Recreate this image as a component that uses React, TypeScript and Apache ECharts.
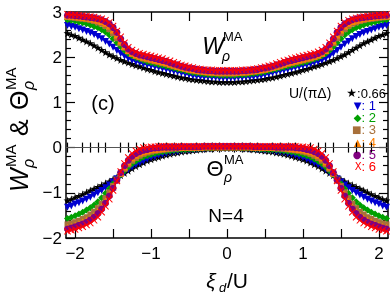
import React, { useEffect, useRef } from 'react';
import * as echarts from 'echarts';

// sample positions xi_d/U (right half; curves are mirrored to the left)
const XI_HALF = [0, 0.05, 0.1, 0.15, 0.2, 0.25, 0.3, 0.35, 0.4, 0.45, 0.5, 0.55, 0.6, 0.65, 0.7, 0.75, 0.8, 0.85, 0.9, 0.95, 1.0, 1.05, 1.1, 1.15, 1.2, 1.25, 1.3, 1.35, 1.4, 1.45, 1.5, 1.55, 1.6, 1.65, 1.7, 1.75, 1.8, 1.85, 1.9, 1.95, 2.0, 2.05, 2.1, 2.15];

const U_LABELS = ['0.66', '1', '2', '3', '4', '5', '6'];

// W_rho^MA
const W_066 = [1.45, 1.45, 1.45, 1.46, 1.46, 1.47, 1.48, 1.49, 1.50, 1.51, 1.52, 1.54, 1.55, 1.57, 1.59, 1.61, 1.63, 1.65, 1.67, 1.69, 1.72, 1.74, 1.77, 1.80, 1.82, 1.85, 1.88, 1.91, 1.94, 1.98, 2.02, 2.06, 2.11, 2.16, 2.21, 2.26, 2.31, 2.35, 2.39, 2.43, 2.47, 2.50, 2.53, 2.56];
const W_1 = [1.54, 1.54, 1.54, 1.55, 1.55, 1.56, 1.56, 1.57, 1.58, 1.59, 1.61, 1.63, 1.65, 1.67, 1.69, 1.71, 1.73, 1.75, 1.77, 1.79, 1.81, 1.83, 1.85, 1.88, 1.90, 1.93, 1.97, 2.02, 2.08, 2.15, 2.22, 2.29, 2.35, 2.41, 2.46, 2.50, 2.54, 2.57, 2.60, 2.63, 2.66, 2.68, 2.70, 2.72];
const W_2 = [1.60, 1.60, 1.60, 1.61, 1.61, 1.62, 1.63, 1.64, 1.65, 1.66, 1.68, 1.70, 1.72, 1.74, 1.76, 1.78, 1.80, 1.82, 1.84, 1.86, 1.88, 1.90, 1.93, 1.96, 1.99, 2.03, 2.08, 2.15, 2.23, 2.32, 2.41, 2.49, 2.56, 2.61, 2.65, 2.68, 2.71, 2.74, 2.76, 2.78, 2.80, 2.82, 2.83, 2.84];
const W_3 = [1.64, 1.64, 1.64, 1.65, 1.65, 1.66, 1.67, 1.68, 1.69, 1.70, 1.72, 1.74, 1.76, 1.78, 1.80, 1.83, 1.85, 1.87, 1.89, 1.91, 1.93, 1.95, 1.97, 2.00, 2.03, 2.07, 2.13, 2.21, 2.31, 2.42, 2.53, 2.62, 2.69, 2.74, 2.77, 2.80, 2.82, 2.84, 2.85, 2.86, 2.87, 2.88, 2.89, 2.89];
const W_4 = [1.67, 1.67, 1.67, 1.67, 1.68, 1.68, 1.69, 1.70, 1.71, 1.73, 1.74, 1.76, 1.78, 1.80, 1.83, 1.85, 1.88, 1.90, 1.92, 1.94, 1.96, 1.98, 2.00, 2.02, 2.05, 2.09, 2.15, 2.24, 2.36, 2.49, 2.60, 2.69, 2.75, 2.79, 2.82, 2.84, 2.86, 2.87, 2.88, 2.89, 2.90, 2.91, 2.91, 2.92];
const W_5 = [1.69, 1.69, 1.69, 1.69, 1.70, 1.70, 1.71, 1.72, 1.73, 1.75, 1.76, 1.78, 1.80, 1.83, 1.85, 1.88, 1.91, 1.93, 1.95, 1.97, 1.99, 2.01, 2.03, 2.05, 2.08, 2.12, 2.18, 2.28, 2.41, 2.55, 2.66, 2.74, 2.79, 2.83, 2.85, 2.87, 2.88, 2.89, 2.90, 2.91, 2.92, 2.93, 2.93, 2.94];
const W_6 = [1.71, 1.71, 1.71, 1.71, 1.72, 1.72, 1.73, 1.74, 1.75, 1.77, 1.79, 1.81, 1.83, 1.86, 1.89, 1.92, 1.94, 1.97, 1.99, 2.01, 2.03, 2.05, 2.07, 2.09, 2.12, 2.16, 2.22, 2.32, 2.45, 2.58, 2.69, 2.77, 2.82, 2.85, 2.87, 2.89, 2.90, 2.91, 2.92, 2.93, 2.94, 2.94, 2.95, 2.95];

// Theta_rho^MA
const T_066 = [-0.01, -0.01, -0.01, -0.01, -0.02, -0.02, -0.03, -0.04, -0.05, -0.06, -0.07, -0.08, -0.09, -0.11, -0.12, -0.14, -0.16, -0.18, -0.21, -0.23, -0.26, -0.29, -0.33, -0.37, -0.41, -0.46, -0.51, -0.56, -0.61, -0.66, -0.70, -0.75, -0.79, -0.83, -0.87, -0.91, -0.95, -0.99, -1.03, -1.07, -1.10, -1.14, -1.17, -1.20];
const T_1 = [-0.01, -0.01, -0.01, -0.01, -0.02, -0.02, -0.03, -0.03, -0.04, -0.05, -0.06, -0.06, -0.07, -0.09, -0.10, -0.11, -0.13, -0.15, -0.17, -0.20, -0.22, -0.26, -0.30, -0.34, -0.38, -0.43, -0.49, -0.55, -0.62, -0.69, -0.76, -0.83, -0.89, -0.95, -1.00, -1.05, -1.10, -1.14, -1.18, -1.22, -1.25, -1.29, -1.32, -1.35];
const T_2 = [0, 0, 0, 0, -0.01, -0.01, -0.01, -0.02, -0.02, -0.03, -0.03, -0.04, -0.04, -0.05, -0.06, -0.07, -0.08, -0.09, -0.11, -0.13, -0.15, -0.18, -0.21, -0.25, -0.30, -0.36, -0.43, -0.51, -0.60, -0.70, -0.80, -0.91, -1.01, -1.11, -1.20, -1.27, -1.33, -1.38, -1.43, -1.47, -1.51, -1.54, -1.57, -1.60];
const T_3 = [0.01, 0.01, 0.01, 0.01, 0.01, 0.01, 0.01, 0, 0, 0, 0, 0, -0.01, -0.02, -0.02, -0.03, -0.04, -0.05, -0.06, -0.07, -0.09, -0.11, -0.14, -0.18, -0.23, -0.29, -0.37, -0.47, -0.58, -0.71, -0.85, -0.99, -1.12, -1.24, -1.34, -1.42, -1.48, -1.54, -1.58, -1.62, -1.65, -1.68, -1.70, -1.72];
const T_4 = [0.02, 0.02, 0.02, 0.02, 0.02, 0.02, 0.02, 0.01, 0.01, 0.01, 0.01, 0.01, 0, 0, 0, 0, -0.01, -0.02, -0.03, -0.04, -0.05, -0.07, -0.09, -0.12, -0.17, -0.23, -0.32, -0.43, -0.56, -0.71, -0.87, -1.03, -1.18, -1.31, -1.41, -1.49, -1.55, -1.60, -1.64, -1.68, -1.71, -1.74, -1.76, -1.78];
const T_5 = [0.03, 0.03, 0.03, 0.03, 0.03, 0.03, 0.03, 0.02, 0.02, 0.02, 0.02, 0.02, 0.02, 0.01, 0.01, 0.01, 0.01, 0.01, 0, -0.01, -0.02, -0.04, -0.06, -0.09, -0.13, -0.19, -0.28, -0.40, -0.55, -0.72, -0.90, -1.07, -1.23, -1.36, -1.46, -1.54, -1.60, -1.65, -1.69, -1.72, -1.75, -1.78, -1.80, -1.82];
const T_6 = [0.03, 0.03, 0.03, 0.03, 0.03, 0.03, 0.03, 0.03, 0.03, 0.03, 0.03, 0.03, 0.03, 0.03, 0.03, 0.03, 0.03, 0.03, 0.03, 0.02, 0.02, 0.01, 0, -0.03, -0.07, -0.13, -0.22, -0.35, -0.53, -0.74, -0.95, -1.14, -1.30, -1.43, -1.54, -1.61, -1.67, -1.71, -1.75, -1.78, -1.81, -1.83, -1.85, -1.87];

const X_LABELS = [-2, -1, 0, 1, 2];
const X_MAJOR = [-2, -1.5, -1, -0.5, 0, 0.5, 1, 1.5, 2];
const X_MINOR = [-2.1, -1.9, -1.8, -1.7, -1.6, -1.4, -1.3, -1.2, -1.1, -0.9, -0.8, -0.7, -0.6, -0.4, -0.3, -0.2, -0.1, 0.1, 0.2, 0.3, 0.4, 0.6, 0.7, 0.8, 0.9, 1.1, 1.2, 1.3, 1.4, 1.6, 1.7, 1.8, 1.9, 2.1];

const COLORS = ['#000000', '#0000d0', '#00a000', '#a8703a', '#ff8000', '#800080', '#ff0000'];
const W_SETS = [W_066, W_1, W_2, W_3, W_4, W_5, W_6];
const T_SETS = [T_066, T_1, T_2, T_3, T_4, T_5, T_6];

const STAR = 'path://M50,0 L61,35 L98,35 L68,57 L79,91 L50,70 L21,91 L32,57 L2,35 L39,35 Z';
const XMARK = 'path://M1,0 L5,4 L9,0 L10,1 L6,5 L10,9 L9,10 L5,6 L1,10 L0,9 L4,5 L0,1 Z';
const SYMBOLS = [
  { symbol: STAR, size: 8, rotate: 0 },
  { symbol: 'triangle', size: 7, rotate: 180 },
  { symbol: 'diamond', size: 7, rotate: 0 },
  { symbol: 'rect', size: 6, rotate: 0 },
  { symbol: 'triangle', size: 7, rotate: 0 },
  { symbol: 'circle', size: 7, rotate: 0 },
  { symbol: XMARK, size: 7, rotate: 0 },
];
const LEGEND_GLYPHS = ['★', '▼', '◆', '■', '▲', '●', 'X'];

const FONT = 'Liberation Sans, Arial, Helvetica, sans-serif';

function mirror(vals: number[]): number[][] {
  const out: number[][] = [];
  for (let i = XI_HALF.length - 1; i >= 1; i--) out.push([-XI_HALF[i], vals[i]]);
  for (let i = 0; i < XI_HALF.length; i++) out.push([XI_HALF[i], vals[i]]);
  return out;
}

const minus = (v: number) => (v < 0 ? '\u2212' + Math.abs(v) : String(v));

export default function App() {
  const ref = useRef<HTMLDivElement>(null);
  useEffect(() => {
    if (!ref.current) return;
    const chart = echarts.init(ref.current, undefined, { renderer: 'svg' });
    const axisLine = { show: true, onZero: false, lineStyle: { color: '#000', width: 1.5 } };
    const tickStyle = { color: '#000', width: 1.2 };
    const xBase = { type: 'value', min: -2.12, max: 2.12, splitLine: { show: false } };
    const yBase = { type: 'value', min: -2, max: 3, interval: 1, splitLine: { show: false } };

    const series: any[] = [];
    for (let k = 0; k < 7; k++) {
      for (const set of [W_SETS, T_SETS]) {
        series.push({
          type: 'line',
          data: mirror(set[k]),
          xAxisIndex: 0,
          yAxisIndex: 0,
          symbol: SYMBOLS[k].symbol,
          symbolSize: SYMBOLS[k].size,
          symbolRotate: SYMBOLS[k].rotate,
          showSymbol: true,
          showAllSymbol: true,
          clip: true,
          lineStyle: { color: COLORS[k], width: 1 },
          itemStyle: { color: COLORS[k] },
          z: 3 + k,
          silent: true,
        });
      }
    }
    series.push({
      type: 'line',
      data: [],
      xAxisIndex: 0,
      yAxisIndex: 0,
      z: 2,
      markLine: {
        silent: true,
        symbol: 'none',
        label: { show: false },
        lineStyle: { color: '#555', width: 1, type: 'solid' },
        data: [{ yAxis: 0 }],
      },
    });

    const txt = (text: string, x: number, y: number, size: number, opts: any = {}) => ({
      type: 'text',
      x,
      y,
      silent: true,
      style: {
        text,
        fontSize: size,
        lineHeight: opts.lineHeight || size,
        fontFamily: FONT,
        fill: opts.fill || '#000',
        fontStyle: opts.italic ? 'italic' : 'normal',
        align: opts.align || 'left',
        verticalAlign: 'middle',
      },
    });

    // legend rows: one text per row, symbol + label as rich fragments
    const legendTexts: any[] = [];
    for (let k = 0; k < 7; k++) {
      const y = k === 0 ? 93 : 105.5 + (k - 1) * 12.2;
      legendTexts.push({
        type: 'text',
        x: k === 0 ? 386 : 376,
        y,
        silent: true,
        style: {
          text: '{g|' + LEGEND_GLYPHS[k] + '}{t|' + (k === 0 ? ':' : ': ') + U_LABELS[k] + '}',
          fontSize: 12,
          lineHeight: 11,
          fontFamily: FONT,
          align: 'right',
          verticalAlign: 'middle',
          rich: {
            g: { fontSize: k === 0 ? 12 : 10, lineHeight: 11, fill: COLORS[k], fontFamily: 'DejaVu Sans' },
            t: { fontSize: k === 0 ? 13 : 13, lineHeight: 11, fill: COLORS[k], fontFamily: FONT },
          },
        },
      });
    }

    const option: any = {
      animation: false,
      grid: { left: 66, right: 2, top: 12, bottom: 56, containLabel: false },
      xAxis: [
        {
          ...xBase,
          position: 'bottom',
          axisLine,
          axisTick: { show: true, inside: true, length: 9, customValues: X_MAJOR, lineStyle: tickStyle },
          axisLabel: { show: true, customValues: X_LABELS, formatter: minus, fontSize: 17, color: '#000', fontFamily: FONT, margin: 7 },
        },
        {
          ...xBase,
          position: 'bottom',
          axisLine: { show: false },
          axisTick: { show: true, inside: true, length: 5, customValues: X_MINOR, lineStyle: tickStyle },
          axisLabel: { show: false },
        },
        {
          ...xBase,
          position: 'top',
          axisLine,
          axisTick: { show: true, inside: true, length: 9, customValues: X_MAJOR, lineStyle: tickStyle },
          axisLabel: { show: false },
        },
        {
          ...xBase,
          position: 'top',
          axisLine: { show: false },
          axisTick: { show: true, inside: true, length: 5, customValues: X_MINOR, lineStyle: tickStyle },
          axisLabel: { show: false },
        },
      ],
      yAxis: [
        {
          ...yBase,
          position: 'left',
          axisLine,
          axisTick: { show: true, inside: true, length: 9, lineStyle: tickStyle },
          minorTick: { show: true, splitNumber: 5, length: 5, lineStyle: tickStyle },
          minorSplitLine: { show: false },
          axisLabel: { show: true, formatter: minus, fontSize: 17, color: '#000', fontFamily: FONT, margin: 4 },
        },
        {
          ...yBase,
          position: 'right',
          axisLine,
          axisTick: { show: true, inside: true, length: 9, lineStyle: tickStyle },
          minorTick: { show: true, splitNumber: 5, length: 5, lineStyle: tickStyle },
          minorSplitLine: { show: false },
          axisLabel: { show: false },
        },
      ],
      series,
      graphic: [
        txt('(c)', 103, 103, 20, { align: 'center' }),
        txt('W', 213, 46, 23, { italic: true, align: 'center' }),
        txt('MA', 223, 36, 13),
        txt('ρ', 222, 56, 14, { italic: true }),
        txt('Θ', 215, 168, 22, { align: 'center' }),
        txt('MA', 224, 159, 13),
        txt('ρ', 224, 177, 14, { italic: true }),
        txt('N=4', 226, 215, 19, { align: 'center' }),
        txt('ξ', 211, 280, 21, { italic: true, align: 'center' }),
        txt('d', 219, 287, 13, { italic: true }),
        txt('/U', 227, 280, 21),
        txt('U/(πΔ)', 289, 93, 14),
        ...legendTexts,
        {
          type: 'group',
          x: 19,
          y: 192,
          rotation: Math.PI / 2,
          silent: true,
          children: [
            txt('W', 0, 0, 25, { italic: true }),
            txt('MA', 25, -9, 15),
            txt('ρ', 24, 9, 16, { italic: true }),
            txt('&', 56, 0, 25),
            txt('Θ', 82, 0, 25),
            txt('MA', 102, -9, 15),
            txt('ρ', 102, 9, 16, { italic: true }),
          ],
        },
      ],
    };
    chart.setOption(option);
    return () => chart.dispose();
  }, []);
  return <div ref={ref} style={{ position: 'fixed', left: 0, top: 0, width: 390, height: 294 }} />;
}
